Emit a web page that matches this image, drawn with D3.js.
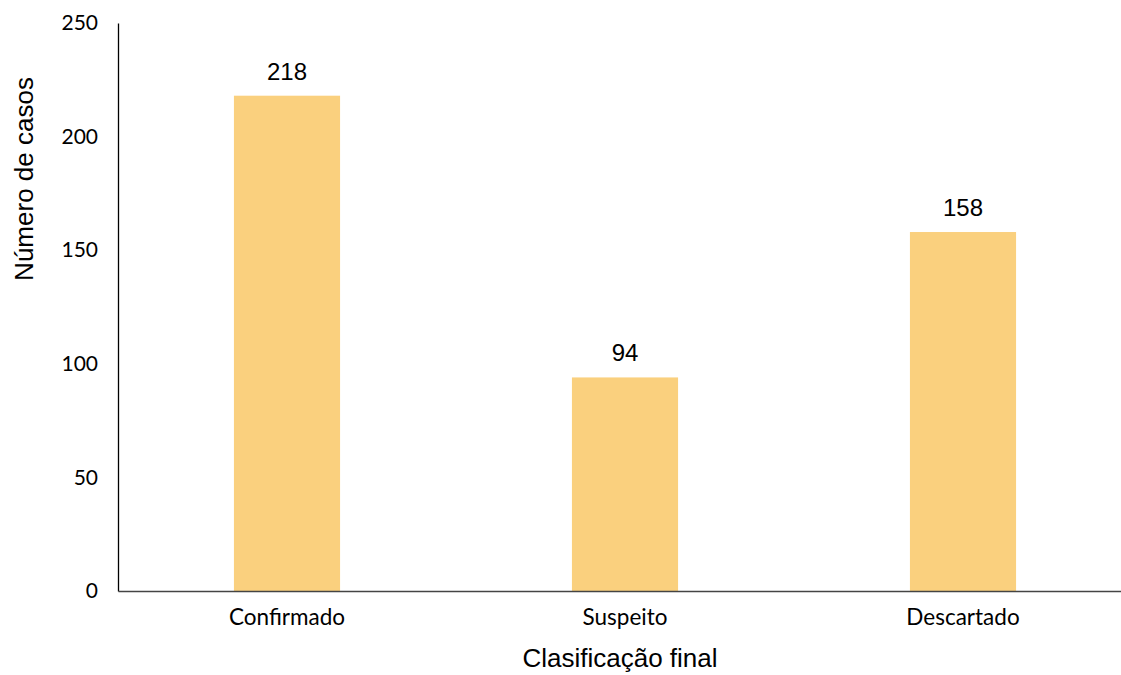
<!DOCTYPE html>
<html><head><meta charset="utf-8">
<script src="https://cdn.jsdelivr.net/npm/d3@7"></script>
<style>body{margin:0;background:#fff}</style>
</head><body>
<svg id="c" width="1121" height="675"></svg>
<script>
const categories = ["Confirmado", "Suspeito", "Descartado"];
const values = [218, 94, 158];
const yTicks = [0, 50, 100, 150, 200, 250];

const svg = d3.select("#c");
const x = d3.scaleBand().domain(categories).range([118, 1132]).paddingInner(0.686).paddingOuter(0.343);
const y = d3.scaleLinear().domain([0, 250]).range([591, 23]);
const tickFont = "Lato, 'Open Sans', sans-serif";

svg.selectAll("rect.bar").data(values).join("rect")
  .attr("x", (d, i) => x(categories[i]))
  .attr("width", x.bandwidth())
  .attr("y", d => y(d)).attr("height", d => y(0) - y(d))
  .attr("fill", "#FAD07E");

svg.selectAll("text.val").data(values).join("text")
  .attr("x", (d, i) => x(categories[i]) + x.bandwidth() / 2)
  .attr("y", d => y(d) - 16)
  .attr("text-anchor", "middle")
  .attr("font-family", "'Liberation Sans', Arial, sans-serif")
  .attr("font-size", 24).attr("fill", "#000")
  .text(d => d);

const ya = svg.append("g").attr("transform", "translate(118,0)")
  .call(d3.axisLeft(y).tickValues(yTicks).tickSize(0).tickPadding(20));
ya.select(".domain").attr("stroke", "#000").attr("stroke-width", 1.3);
ya.selectAll("text").attr("font-family", tickFont).attr("font-size", 21).attr("fill", "#000");

const xa = svg.append("g").attr("transform", "translate(0,591)")
  .call(d3.axisBottom(x).tickSize(0).tickPadding(18));
xa.select(".domain").attr("stroke", "#444").attr("stroke-width", 1.3);
xa.selectAll("text").attr("font-family", tickFont).attr("font-size", 22.5).attr("fill", "#000");

svg.append("text").attr("transform", "translate(33,179) rotate(-90)")
  .attr("text-anchor", "middle")
  .attr("font-family", "'Liberation Sans', Arial, sans-serif")
  .attr("font-size", 26).text("Número de casos");

svg.append("text").attr("x", 620).attr("y", 667)
  .attr("text-anchor", "middle")
  .attr("font-family", "'Liberation Sans', Arial, sans-serif")
  .attr("font-size", 26).text("Clasificação final");
</script>
</body></html>
